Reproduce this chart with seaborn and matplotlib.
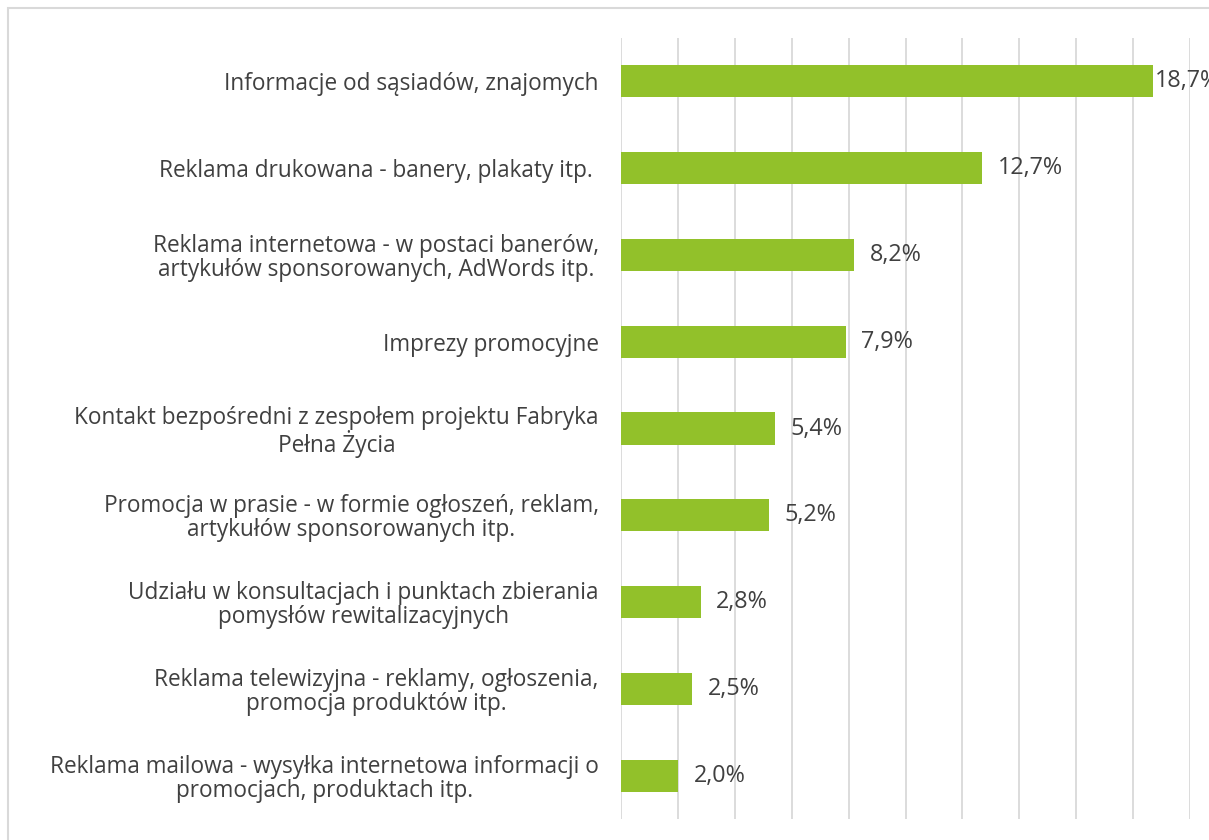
import matplotlib
matplotlib.use("Agg")
import matplotlib.pyplot as plt
import seaborn as sns
import pandas as pd
from matplotlib.patches import Rectangle

categories = [
    "Informacje od sąsiadów, znajomych",
    "Reklama drukowana - banery, plakaty itp. ",
    "Reklama internetowa - w postaci banerów,\nartykułów sponsorowanych, AdWords itp.",
    "Imprezy promocyjne",
    "Kontakt bezpośredni z zespołem projektu Fabryka\nPełna Życia",
    "Promocja w prasie - w formie ogłoszeń, reklam,\nartykułów sponsorowanych itp.",
    "Udziału w konsultacjach i punktach zbierania\npomysłów rewitalizacyjnych",
    "Reklama telewizyjna - reklamy, ogłoszenia,\npromocja produktów itp.",
    "Reklama mailowa - wysyłka internetowa informacji o\npromocjach, produktach itp.",
]
values = [18.7, 12.7, 8.2, 7.9, 5.4, 5.2, 2.8, 2.5, 2.0]
value_labels = ["18,7%", "12,7%", "8,2%", "7,9%", "5,4%", "5,2%", "2,8%", "2,5%", "2,0%"]

df = pd.DataFrame({"cat": categories, "val": values})

sns.set_theme(style="white")
plt.rcParams["font.family"] = ["Open Sans", "DejaVu Sans"]

fig = plt.figure(figsize=(12.09, 8.4), dpi=100)
ax = fig.add_axes([621/1209, 1 - 819/840, (1190-621)/1209, (819-38)/840])

sns.barplot(data=df, x="val", y="cat", color="#92C12A", saturation=1, width=0.37, ax=ax,
            orient="h", linewidth=0)

ax.set_xlim(0, 20)
ax.set_xticks(range(0, 21, 2))
ax.set_xticklabels([])
ax.tick_params(axis="x", length=0)
ax.tick_params(axis="y", length=0, pad=16)
ax.grid(axis="x", color="#d9d9d9", linewidth=1.3)
ax.set_axisbelow(True)
for s in ax.spines.values():
    s.set_visible(False)
ax.set_xlabel("")
ax.set_ylabel("")
for lab in ax.get_yticklabels():
    lab.set_fontsize(16.3)
    lab.set_color("#404040")
    lab.set_multialignment("center")
    lab.set_linespacing(1.0)

for i, (v, t) in enumerate(zip(values, value_labels)):
    pad = 0.05 if v == max(values) else 0.55
    ax.text(v + pad, i, t, va="center", ha="left", fontsize=16.8, color="#404040", clip_on=False)

fig.patches.append(Rectangle((8/1209, -0.1), 1.2, 1 - 8/840 + 0.1, transform=fig.transFigure,
                             fill=False, edgecolor="#d9d9d9", linewidth=1.5))

fig.savefig("out.png", dpi=100)
